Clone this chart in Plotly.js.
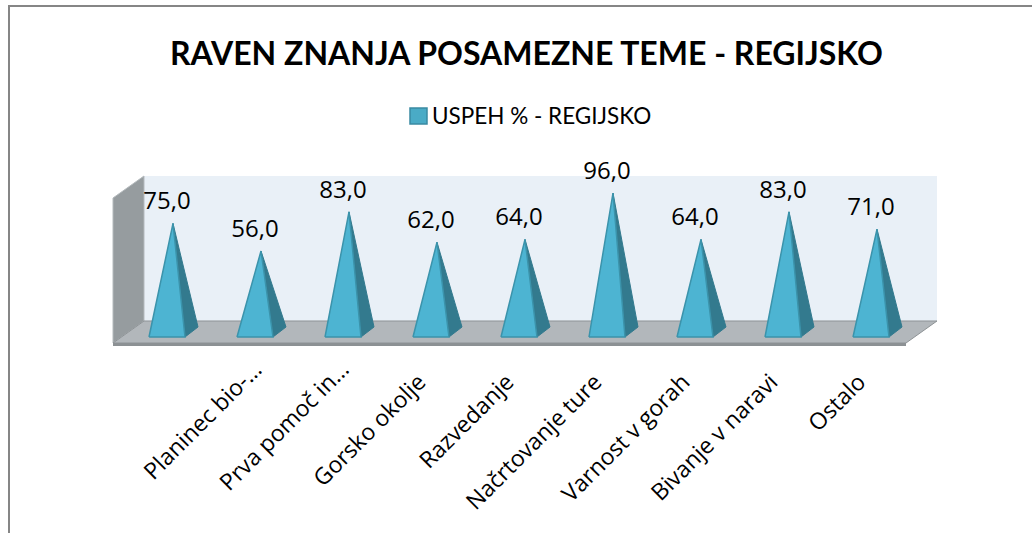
<!DOCTYPE html>
<html><head><meta charset="utf-8">
<script src="https://cdn.plot.ly/plotly-3.0.1.min.js"></script>
<style>html,body{margin:0;padding:0;background:#fff;overflow:hidden}#c{width:1032px;height:533px}</style>
</head><body><div id="c"></div>
<script>
const categories = ["", "Planinec bio-…", "Prva pomoč in…", "Gorsko okolje", "Razvedanje", "Načrtovanje ture", "Varnost v gorah", "Bivanje v naravi", "Ostalo"];
const values = [75, 56, 83, 62, 64, 96, 64, 83, 71];
const seriesName = "USPEH % - REGIJSKO";
const chartTitle = "RAVEN ZNANJA POSAMEZNE TEME - REGIJSKO";

const W = 1032, H = 533;
const plot = {l:113, r:937, t:140, b:346};
const stepPx = 88, unitPx = 1.45, x0Px = 167, y0Px = 332.2;
const xr = [(plot.l-x0Px)/stepPx, (plot.r-x0Px)/stepPx];
const yr = [(y0Px-plot.b)/unitPx, (y0Px-plot.t)/unitPx];

const hw = 18/stepPx, tipDx = 6/stepPx, sideDx = 31/stepPx, baseFront = -4.8/unitPx, baseBack = 5.2/unitPx;
const labelLift = 20;
const front = '#4DB4D2', side = '#337A8E', edge = '#3B93AB';
const labelFont = {family:'Open Sans, sans-serif',size:23,color:'#000'};

const traces = [];
values.forEach((v,i)=>{
  traces.push({type:'scatter',mode:'lines',x:[i+hw,i+sideDx,i+tipDx,i+hw],y:[baseFront,baseBack,v,baseFront],fill:'toself',fillcolor:side,
    line:{color:side,width:1},showlegend:false,hoverinfo:'skip'});
  traces.push({type:'scatter',mode:'lines',x:[i-hw,i+hw,i+tipDx,i-hw],y:[baseFront,baseFront,v,baseFront],fill:'toself',fillcolor:front,
    line:{color:edge,width:1.5},showlegend:false,hoverinfo:'skip'});
});
traces.push({type:'scatter',mode:'text',x:values.map((v,i)=>i),y:values.map(v=>v+labelLift/unitPx),
  text:values.map(v=>v.toFixed(1).replace('.',',')),textposition:'middle center',
  textfont:{family:'Open Sans, sans-serif',size:24,color:'#000'},cliponaxis:false,showlegend:false,hoverinfo:'skip'});

const fx = p => (p-plot.l)/(plot.r-plot.l), fy = p => (plot.b-p)/(plot.b-plot.t);
const poly = (pts,fill,line)=>({type:'path',xref:'paper',yref:'paper',layer:'below',
  path:'M'+pts.map(p=>fx(p[0]).toFixed(5)+','+fy(p[1]).toFixed(5)).join('L')+'Z',
  fillcolor:fill,line:line||{width:0}});
const seg = (x0,y0,x1,y1)=>({type:'line',xref:'paper',yref:'paper',layer:'below',x0:fx(x0),x1:fx(x1),y0:fy(y0),y1:fy(y1),line:{color:'#868686',width:2}});
const shapes = [
  poly([[144,176],[937,176],[937,321],[144,321]],'#E9F0F7'),
  poly([[113,198],[144,176],[144,321],[113,343]],'#969C9F',{color:'#B4BABD',width:1}),
  poly([[144,321],[937,321],[906,343],[113,343]],'#B2B7BB',{color:'#8E9396',width:1}),
  poly([[113,343],[906,343],[906,346],[113,346]],'#8C9194'),
  seg(8,6,1032,6),
  seg(9,5,9,533),
  {type:'rect',xref:'paper',yref:'paper',layer:'below',x0:fx(410),x1:fx(427),y0:fy(124),y1:fy(108),fillcolor:'#4AABC6',line:{color:'#3A8AA2',width:1.5}}
];

const isCut = c => c.endsWith('…');
const cutLabels = categories.map((c,i)=>isCut(c)?{xref:'x',yref:'paper',x:i,y:fy(352),xshift:14,xanchor:'right',yanchor:'top',
  textangle:-45,showarrow:false,text:c,font:labelFont,borderpad:0}:null).filter(Boolean);

const layout = {
  width:W,height:H,paper_bgcolor:'#fff',plot_bgcolor:'rgba(0,0,0,0)',
  margin:{l:plot.l,r:W-plot.r,t:plot.t,b:H-plot.b,pad:0,autoexpand:false},
  title:{text:'<b>'+chartTitle+'</b>',font:{family:'Lato, sans-serif',size:32,color:'#000'},x:526.5/W,xanchor:'center',y:1-54/H,yanchor:'middle'},
  showlegend:false,
  xaxis:{type:'linear',range:xr,tickmode:'array',tickvals:categories.map((c,i)=>i),ticktext:categories.map(c=>isCut(c)?'':c),tickangle:-45,
    showgrid:false,zeroline:false,showline:false,ticks:'',
    tickfont:labelFont,automargin:false,ticklabelstandoff:17,ticklabelshift:-12},
  yaxis:{range:yr,showgrid:false,zeroline:false,showline:false,ticks:'',showticklabels:false,automargin:false},
  shapes:shapes,
  annotations:[
    {xref:'paper',yref:'paper',x:fx(432),y:fy(115),xanchor:'left',yanchor:'middle',showarrow:false,xshift:-2,
      text:seriesName,font:{family:'Lato, sans-serif',size:22.5,color:'#000'}},
    ...cutLabels
  ]
};
Plotly.newPlot('c',traces,layout,{displayModeBar:false,staticPlot:true});
</script></body></html>
